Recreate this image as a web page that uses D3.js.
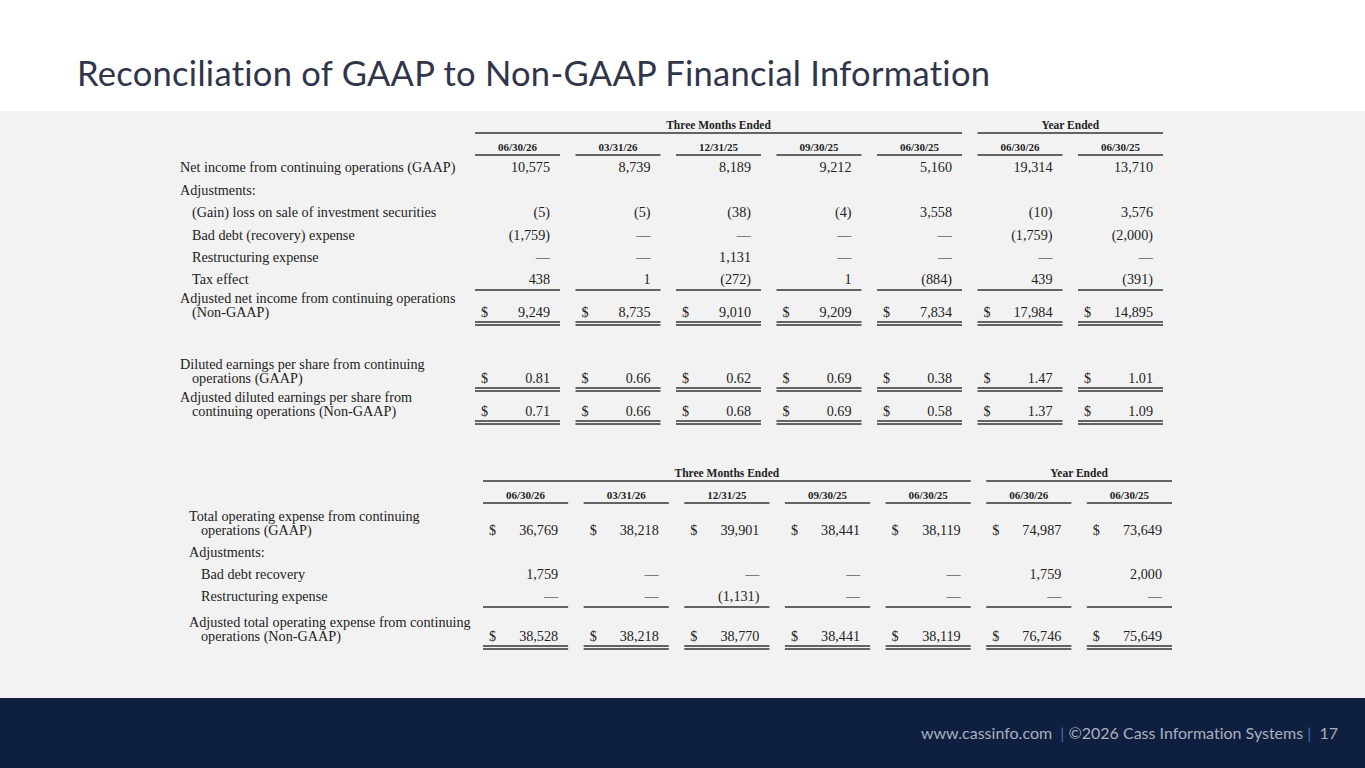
<!DOCTYPE html>
<html><head><meta charset="utf-8">
<script src="https://cdn.jsdelivr.net/npm/d3@7"></script>
<style>
html,body{margin:0;padding:0;background:#fff;}
svg{display:block;font-variant-ligatures:none;}
</style></head>
<body>
<svg id="chart" width="1365" height="768"></svg>
<script>
// ---------- DATA ----------
const titleText = "Reconciliation of GAAP to Non-GAAP Financial Information";
const groupLabels = ["Three Months Ended", "Year Ended"];
const groupSizes = [5, 2];
const periods = ["06/30/26", "03/31/26", "12/31/25", "09/30/25", "06/30/25", "06/30/26", "06/30/25"];

const netIncomeGAAP        = [10575, 8739, 8189, 9212, 5160, 19314, 13710];
const gainLossSecurities   = [-5, -5, -38, -4, 3558, -10, 3576];
const badDebtExpense       = [-1759, null, null, null, null, -1759, -2000];
const restructuringExpense = [null, null, 1131, null, null, null, null];
const taxEffect            = [438, 1, -272, 1, -884, 439, -391];
const adjustedNetIncome    = [9249, 8735, 9010, 9209, 7834, 17984, 14895];
const dilutedEPS           = [0.81, 0.66, 0.62, 0.69, 0.38, 1.47, 1.01];
const adjustedDilutedEPS   = [0.71, 0.66, 0.68, 0.69, 0.58, 1.37, 1.09];

const totalOpexGAAP        = [36769, 38218, 39901, 38441, 38119, 74987, 73649];
const badDebtRecovery      = [1759, null, null, null, null, 1759, 2000];
const restructuringOpex    = [null, null, -1131, null, null, null, null];
const adjustedOpex         = [38528, 38218, 38770, 38441, 38119, 76746, 75649];

const footerParts = ["www.cassinfo.com", "©2026 Cass Information Systems", "17"];

// ---------- LAYOUT ----------
const svg = d3.select("#chart");
const W = 1365, H = 768;
svg.append("rect").attr("x",0).attr("y",0).attr("width",W).attr("height",H).attr("fill","#ffffff");
svg.append("rect").attr("x",0).attr("y",111).attr("width",W).attr("height",587).attr("fill","#f2f2f2");
svg.append("rect").attr("x",0).attr("y",698).attr("width",W).attr("height",70).attr("fill","#0f1f40");

svg.append("text").text(titleText)
  .attr("x",77).attr("y",86)
  .attr("font-family","Lato, 'Open Sans', sans-serif")
  .attr("font-size",34.5).attr("fill","#30354a")
  .attr("textLength",913).attr("lengthAdjust","spacing");

// footer
const ft = svg.append("text").attr("y",739).attr("x",1338).attr("text-anchor","end")
  .attr("font-family","Lato, 'Open Sans', sans-serif").attr("font-size",16).attr("fill","#a9b0be")
  .attr("style","white-space:pre");
ft.append("tspan").text(footerParts[0]);
ft.append("tspan").text("  | ").attr("fill","#3f6fbf");
ft.append("tspan").text(footerParts[1]);
ft.append("tspan").text(" |  ").attr("fill","#3f6fbf");
ft.append("tspan").text(footerParts[2]);

const serif = "'Liberation Serif', 'Times New Roman', serif";
const ink = "#222";
const intFmt = d3.format(",");
function fmt(v, dec) {
  if (v === null || v === undefined) return "—";
  const s = dec ? d3.format("." + dec + "f")(Math.abs(v)) : intFmt(Math.abs(v));
  return v < 0 ? "(" + s + ")" : s;
}

function drawTable(cfg) {
  const g = svg.append("g");
  const x = d3.scaleBand().domain(d3.range(periods.length)).range(cfg.xRange).paddingInner(0.154).paddingOuter(0);
  const bw = x.bandwidth();
  let start = 0;
  groupLabels.forEach((lab, gi) => {
    const x0 = x(start), x1 = x(start + groupSizes[gi] - 1) + bw;
    g.append("text").text(lab).attr("x",(x0+x1)/2).attr("y",cfg.groupY)
      .attr("text-anchor","middle").attr("font-family",serif).attr("font-weight","bold")
      .attr("font-size",11.5).attr("fill",ink);
    g.append("line").attr("x1",x0).attr("x2",x1).attr("y1",cfg.groupLineY).attr("y2",cfg.groupLineY)
      .attr("stroke","#333").attr("stroke-width",1.6);
    start += groupSizes[gi];
  });
  periods.forEach((p, i) => {
    g.append("text").text(p).attr("x",x(i)+bw/2).attr("y",cfg.periodY)
      .attr("text-anchor","middle").attr("font-family",serif).attr("font-weight","bold")
      .attr("font-size",11).attr("fill",ink);
    g.append("line").attr("x1",x(i)).attr("x2",x(i)+bw).attr("y1",cfg.periodLineY).attr("y2",cfg.periodLineY)
      .attr("stroke","#333").attr("stroke-width",1.6);
  });
  cfg.rows.forEach(r => {
    const lines = r.label;
    lines.forEach((ln, li) => {
      g.append("text").text(ln).attr("x",cfg.labelX + (li>0 ? 12 : 0) + (r.indent ? 12 : 0))
        .attr("y",r.y - (lines.length-1-li)*cfg.lineGap)
        .attr("font-family",serif).attr("font-size",cfg.fs).attr("fill",ink);
    });
    if (!r.values) return;
    r.values.forEach((v, i) => {
      if (r.dollar) {
        g.append("text").text("$").attr("x",x(i)+6).attr("y",r.y)
          .attr("font-family",serif).attr("font-size",cfg.fs).attr("fill",ink);
      }
      g.append("text").text(fmt(v, r.dec)).attr("x",x(i)+bw-10).attr("y",r.y)
        .attr("text-anchor","end").attr("font-family",serif).attr("font-size",cfg.fs).attr("fill",ink);
      if (r.under === 2) {
        const uy = r.y + 5;
        [0, 3].forEach(d => g.append("line").attr("x1",x(i)).attr("x2",x(i)+bw).attr("y1",uy+d).attr("y2",uy+d)
          .attr("stroke","#333").attr("stroke-width",1.3));
      }
      if (r.underAfter) {
        const uy = r.y + r.underAfter;
        g.append("line").attr("x1",x(i)).attr("x2",x(i)+bw).attr("y1",uy).attr("y2",uy)
          .attr("stroke","#333").attr("stroke-width",1.3);
      }
    });
  });
}

drawTable({
  xRange: [475, 1163], labelX: 180, fs: 14.2, lineGap: 14,
  groupY: 129, groupLineY: 133, periodY: 151, periodLineY: 155,
  rows: [
    {label:["Net income from continuing operations (GAAP)"], y:172, values: netIncomeGAAP},
    {label:["Adjustments:"], y:195},
    {label:["(Gain) loss on sale of investment securities"], y:217, indent:true, values: gainLossSecurities},
    {label:["Bad debt (recovery) expense"], y:240, indent:true, values: badDebtExpense},
    {label:["Restructuring expense"], y:262, indent:true, values: restructuringExpense},
    {label:["Tax effect"], y:284, indent:true, values: taxEffect, underAfter: 6},
    {label:["Adjusted net income from continuing operations","(Non-GAAP)"], y:317, values: adjustedNetIncome, dollar:true, under:2},
    {label:["Diluted earnings per share from continuing","operations (GAAP)"], y:383, values: dilutedEPS, dollar:true, dec:2, under:2},
    {label:["Adjusted diluted earnings per share from","continuing operations (Non-GAAP)"], y:416, values: adjustedDilutedEPS, dollar:true, dec:2, under:2}
  ]
});

drawTable({
  xRange: [483, 1172], labelX: 189, fs: 14.2, lineGap: 14,
  groupY: 477, groupLineY: 481, periodY: 499, periodLineY: 503,
  rows: [
    {label:["Total operating expense from continuing","operations (GAAP)"], y:535, values: totalOpexGAAP, dollar:true},
    {label:["Adjustments:"], y:557},
    {label:["Bad debt recovery"], y:579, indent:true, values: badDebtRecovery},
    {label:["Restructuring expense"], y:601, indent:true, values: restructuringOpex, underAfter: 6},
    {label:["Adjusted total operating expense from continuing","operations (Non-GAAP)"], y:641, values: adjustedOpex, dollar:true, under:2}
  ]
});
</script>
</body></html>
